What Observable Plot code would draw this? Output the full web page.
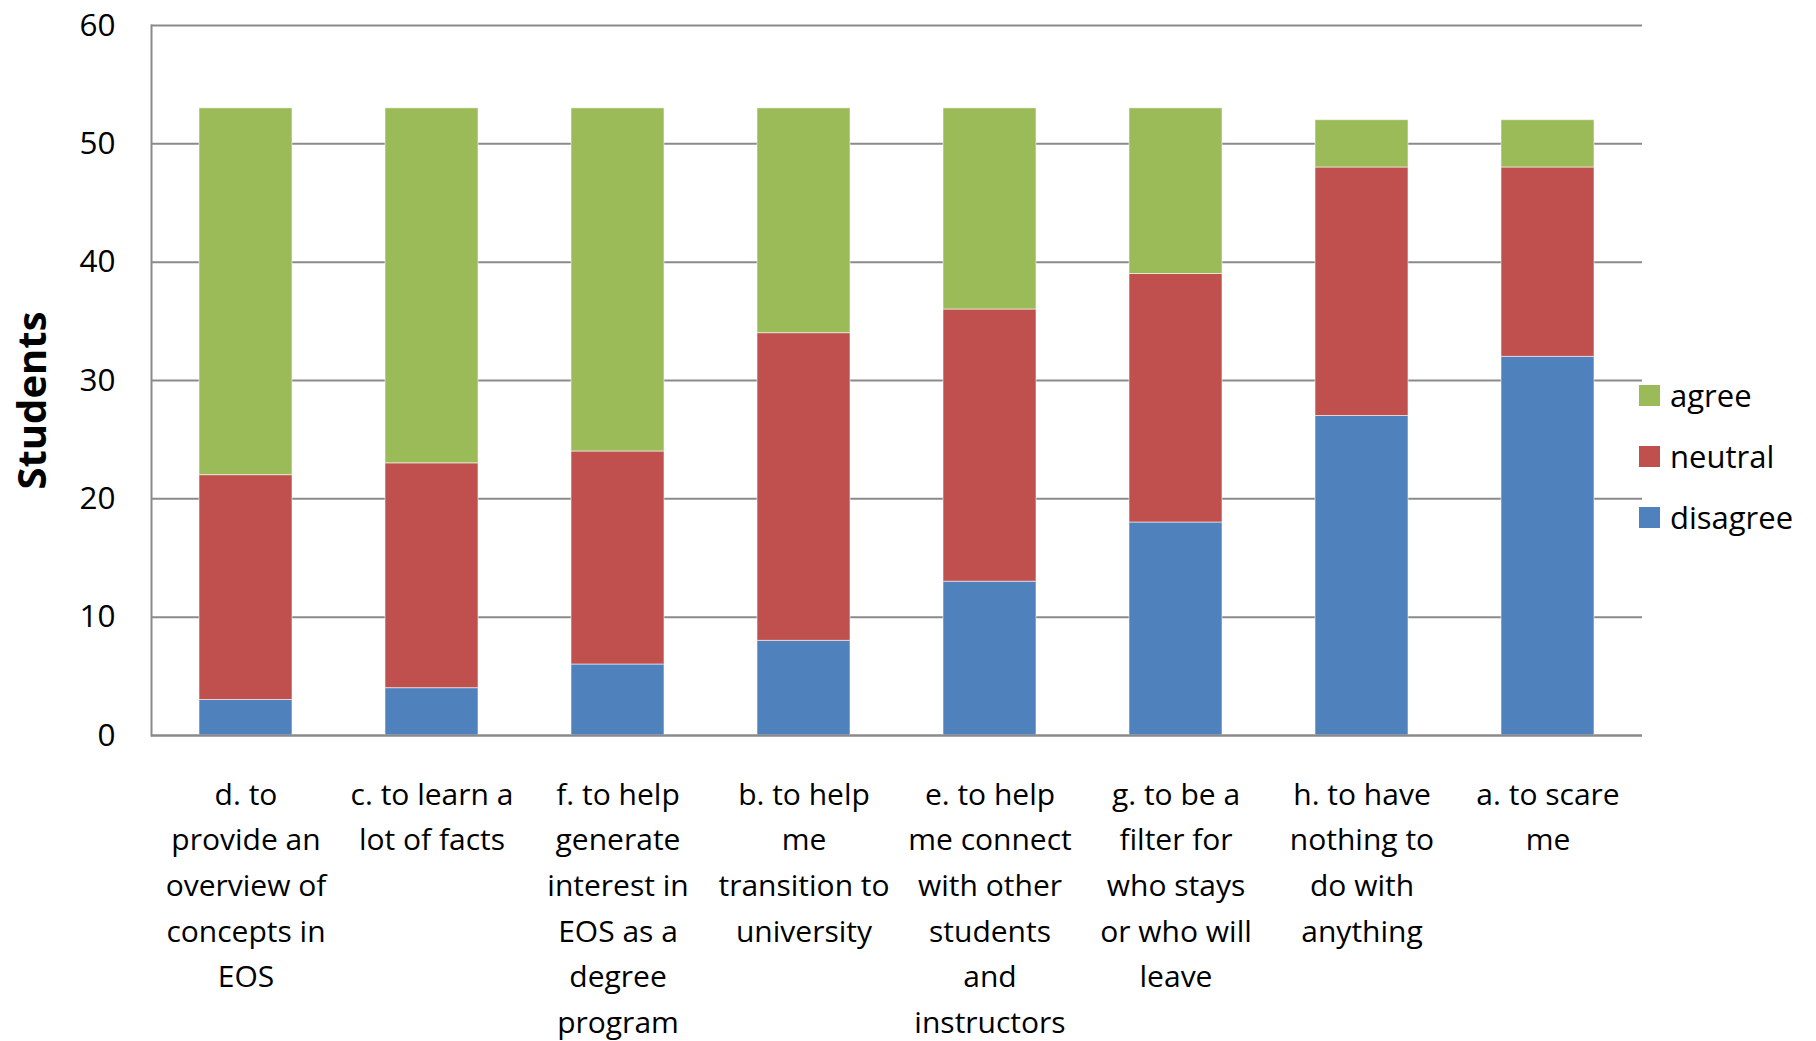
<!DOCTYPE html>
<html>
<head>
<meta charset="utf-8">
<script src="https://cdn.jsdelivr.net/npm/d3@7"></script>
<script src="https://cdn.jsdelivr.net/npm/@observablehq/plot@0.6"></script>
<style>
  html, body { margin: 0; padding: 0; background: #fff; }
  #wrap { position: relative; width: 1816px; height: 1041px; font-family: "Open Sans", sans-serif; }
  #legend { position: absolute; left: 1639px; top: 385px; }
  .row { position: absolute; left: 0; height: 21px; white-space: nowrap; }
  .sw { position: absolute; left: 0; top: 0; width: 21px; height: 21px; }
  .lab { position: absolute; left: 31px; bottom: -5px; font-size: 31px; line-height: 31px; color: #000; }
</style>
</head>
<body>
<div id="wrap"><div id="legend"></div></div>
<script>
// ---- data ----
const categories = ["d", "c", "f", "b", "e", "g", "h", "a"];
const tickLabels = [
  "d. to\nprovide an\noverview of\nconcepts in\nEOS",
  "c. to learn a\nlot of facts",
  "f. to help\ngenerate\ninterest in\nEOS as a\ndegree\nprogram",
  "b. to help\nme\ntransition to\nuniversity",
  "e. to help\nme connect\nwith other\nstudents\nand\ninstructors",
  "g. to be a\nfilter for\nwho stays\nor who will\nleave",
  "h. to have\nnothing to\ndo with\nanything",
  "a. to scare\nme"
];
const disagree = [3, 4, 6, 8, 13, 18, 27, 32];
const neutral  = [19, 19, 18, 26, 23, 21, 21, 16];
const agree    = [31, 30, 29, 19, 17, 14, 4, 4];
const seriesNames = ["disagree", "neutral", "agree"];
const seriesColors = ["#4F81BD", "#C0504D", "#9BBB59"];
const yTicks = [0, 10, 20, 30, 40, 50, 60];

const seriesValues = [disagree, neutral, agree];
const rows = [];
seriesNames.forEach((s, si) => {
  categories.forEach((c, ci) => rows.push({category: c, series: s, value: seriesValues[si][ci]}));
});
const labelOf = new Map(categories.map((c, i) => [c, tickLabels[i]]));

const chart = Plot.plot({
  width: 1816,
  height: 1041,
  marginLeft: 151,
  marginRight: 174,
  marginTop: 25,
  marginBottom: 306,
  style: {fontFamily: "Open Sans, sans-serif", background: "white", color: "#000"},
  x: {domain: categories, paddingInner: 0.5, paddingOuter: 0.25, label: null},
  y: {domain: [0, 60], label: null},
  color: {domain: seriesNames, range: seriesColors},
  marks: [
    Plot.gridY(yTicks, {stroke: "#8a8a8a", strokeOpacity: 1, strokeWidth: 2}),
    Plot.frame({anchor: "left", stroke: "#8a8a8a", strokeWidth: 2}),
    Plot.barY(rows, {x: "category", y: "value", fill: "series", order: seriesNames,
      stroke: "white", strokeOpacity: 0.55, strokeWidth: 1}),
    Plot.ruleY([0], {stroke: "#8a8a8a", strokeWidth: 2}),
    Plot.axisY({ticks: yTicks, tickSize: 0, tickPadding: 36, fontSize: 31.5, label: null}),
    Plot.axisX({tickSize: 0, tickPadding: 37, fontSize: 30, lineHeight: 1.52,
      tickFormat: d => labelOf.get(d), label: null}),
    Plot.text(["Students"], {frameAnchor: "left", rotate: -90, dx: -118, dy: 20,
      textAnchor: "middle", lineAnchor: "middle", fontSize: 40, fontWeight: "bold", fill: "#000"})
  ]
});
document.getElementById("wrap").prepend(chart);

// legend (top to bottom: agree, neutral, disagree)
const legend = document.getElementById("legend");
[2, 1, 0].forEach((si, k) => {
  const row = document.createElement("div");
  row.className = "row";
  row.style.top = (k * 61) + "px";
  row.innerHTML = `<div class="sw" style="background:${seriesColors[si]}"></div><div class="lab">${seriesNames[si]}</div>`;
  legend.appendChild(row);
});
</script>
</body>
</html>
